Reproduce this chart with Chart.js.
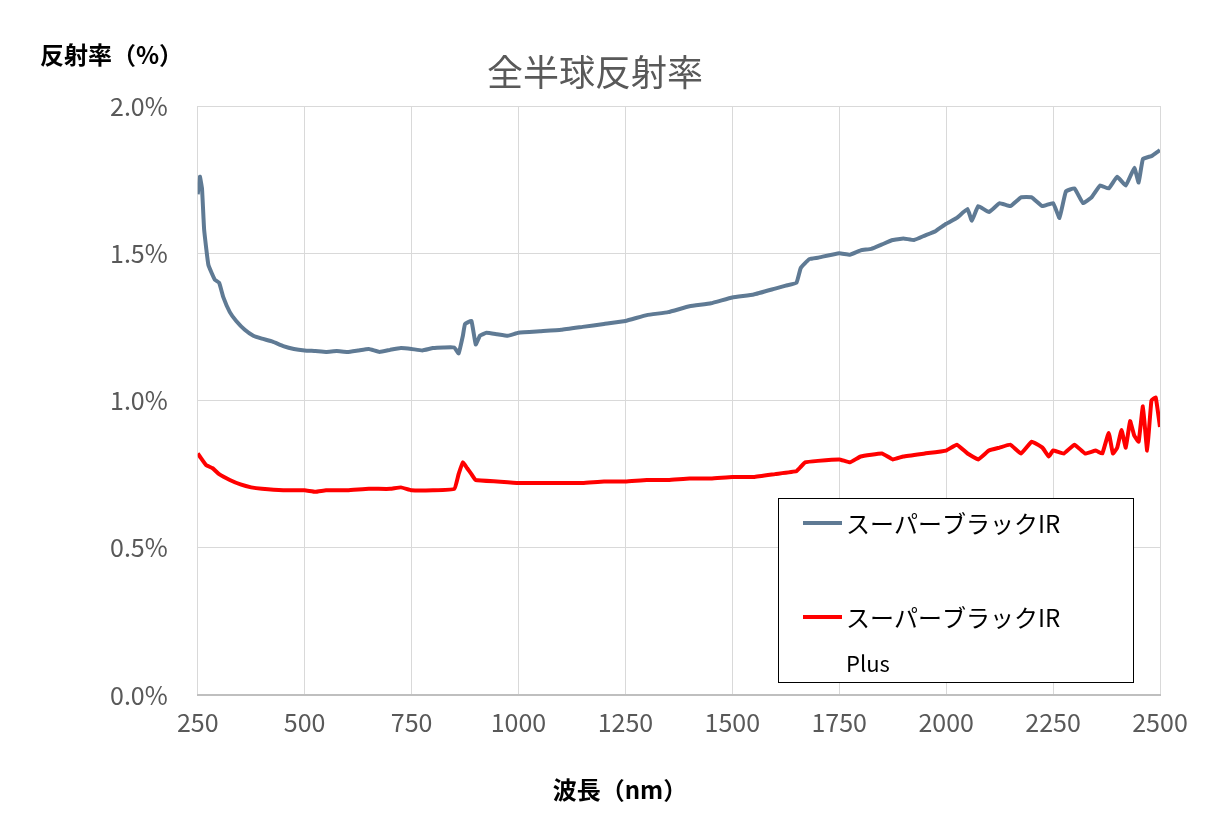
<!DOCTYPE html>
<html><head><meta charset="utf-8">
<script src="https://cdn.jsdelivr.net/npm/chart.js@4"></script>
<style>body{margin:0;background:#fff}#w{width:1227px;height:821px}</style></head>
<body><div id="w"><canvas id="c"></canvas></div>
<script>
const blueX=[250,255,260,265,275,290,300,310,325,340,360,380,400,425,450,475,500,525,550,575,600,625,650,675,700,725,750,775,800,825,850,860,870,875,890,900,910,925,950,975,1000,1050,1100,1150,1200,1250,1300,1350,1400,1450,1500,1550,1600,1625,1650,1660,1680,1700,1750,1775,1800,1825,1850,1875,1900,1925,1950,1975,2000,2025,2050,2060,2075,2100,2125,2150,2175,2200,2225,2250,2265,2280,2300,2320,2340,2360,2380,2400,2420,2440,2450,2460,2480,2490,2500];
const blueY=[1.70,1.76,1.72,1.58,1.46,1.41,1.40,1.35,1.30,1.27,1.24,1.22,1.21,1.20,1.185,1.175,1.17,1.168,1.165,1.168,1.165,1.17,1.175,1.165,1.172,1.178,1.175,1.17,1.178,1.18,1.18,1.16,1.22,1.26,1.27,1.19,1.22,1.23,1.225,1.22,1.23,1.235,1.24,1.25,1.26,1.27,1.29,1.30,1.32,1.33,1.35,1.36,1.38,1.39,1.40,1.45,1.48,1.485,1.50,1.495,1.51,1.515,1.53,1.545,1.55,1.545,1.56,1.575,1.60,1.62,1.65,1.61,1.66,1.64,1.67,1.66,1.69,1.69,1.66,1.67,1.62,1.71,1.72,1.67,1.69,1.73,1.72,1.76,1.73,1.79,1.74,1.82,1.83,1.84,1.85];
const redX=[250,255,270,285,300,325,350,375,400,450,500,525,550,600,650,700,725,750,800,850,860,870,880,890,900,950,1000,1050,1100,1150,1200,1250,1300,1350,1400,1450,1500,1550,1600,1650,1660,1670,1700,1750,1775,1800,1850,1875,1900,1950,2000,2025,2050,2075,2100,2125,2150,2175,2200,2225,2240,2250,2275,2300,2325,2350,2365,2380,2390,2400,2410,2420,2430,2440,2450,2460,2470,2480,2490,2500];
const redY=[0.82,0.81,0.78,0.77,0.75,0.73,0.715,0.705,0.70,0.695,0.695,0.69,0.695,0.695,0.70,0.70,0.705,0.695,0.695,0.70,0.75,0.79,0.77,0.75,0.73,0.725,0.72,0.72,0.72,0.72,0.725,0.725,0.73,0.73,0.735,0.735,0.74,0.74,0.75,0.76,0.775,0.79,0.795,0.80,0.79,0.81,0.82,0.80,0.81,0.82,0.83,0.85,0.82,0.80,0.83,0.84,0.85,0.82,0.86,0.84,0.81,0.83,0.82,0.85,0.82,0.83,0.82,0.89,0.82,0.84,0.90,0.84,0.93,0.88,0.86,0.98,0.83,1.00,1.01,0.91];
const xTicks=[250,500,750,1000,1250,1500,1750,2000,2250,2500];
const seriesNames=['スーパーブラックIR','スーパーブラックIR'];
const F='"Noto Sans CJK JP","Noto Sans",sans-serif';
const deco={id:'deco',afterDraw(ch){const c=ch.ctx;c.save();
c.fillStyle='#595959';c.font='36px '+F;c.textAlign='center';c.textBaseline='middle';c.fillText('全半球反射率',595,72);
c.fillStyle='#000';c.font='bold 24px '+F;c.textAlign='left';c.fillText('反射率（%）',40,55);
c.textAlign='center';c.fillText('波長（nm）',620,790);
c.fillStyle='#fff';c.fillRect(778,498,355,184);c.strokeStyle='#000';c.lineWidth=1;c.strokeRect(778.5,498.5,355,184);
c.lineWidth=4;c.strokeStyle='#5f7a94';c.beginPath();c.moveTo(803,523);c.lineTo(842,523);c.stroke();
c.strokeStyle='#ff0000';c.beginPath();c.moveTo(803,617);c.lineTo(842,617);c.stroke();
c.fillStyle='#000';c.font='24px '+F;c.textAlign='left';c.fillText(seriesNames[0],846,524);c.fillText(seriesNames[1],846,618);
c.font='22px '+F;c.fillText('Plus',846,664);c.restore();}};
new Chart(document.getElementById('c'),{type:'scatter',
data:{datasets:[
{data:blueX.map((x,i)=>({x,y:blueY[i]})),showLine:true,borderColor:'#5f7a94',borderWidth:4,pointRadius:0,tension:0.1},
{data:redX.map((x,i)=>({x,y:redY[i]})),showLine:true,borderColor:'#ff0000',borderWidth:4,pointRadius:0,tension:0.1}]},
options:{responsive:true,maintainAspectRatio:false,animation:false,
layout:{padding:{top:106,right:67,left:80,bottom:72}},
plugins:{legend:{display:false},tooltip:{enabled:false}},
scales:{x:{type:'linear',min:250,max:2500,afterBuildTicks(a){a.ticks=xTicks.map(v=>({value:v}));},
grid:{color:'#d9d9d9',drawTicks:false},border:{color:'#bfbfbf',width:2},
ticks:{color:'#595959',font:{size:25,family:F},padding:12,maxRotation:0,autoSkip:false,callback:v=>String(v)}},
y:{min:0,max:2,grid:{color:'#d9d9d9',drawTicks:false},border:{display:false},
ticks:{stepSize:0.5,color:'#595959',font:{size:25,family:F},padding:30,callback:v=>v.toFixed(1)+'%'}}}},
plugins:[deco]});
</script></body></html>
